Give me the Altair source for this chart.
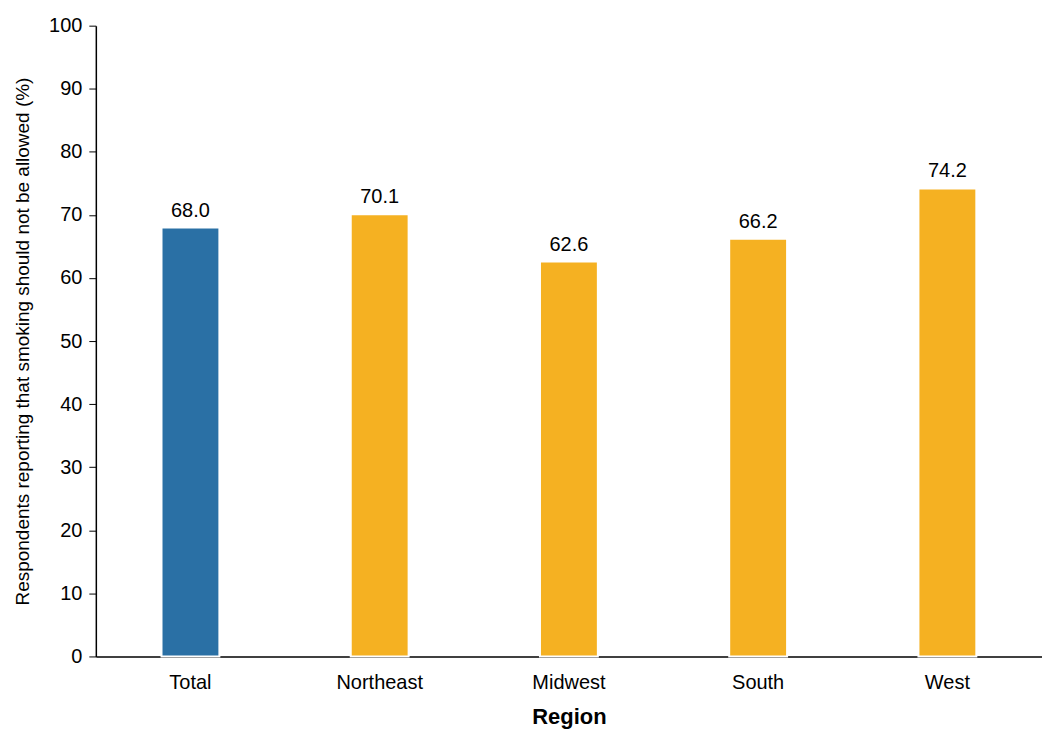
import altair as alt
import pandas as pd

regions = ["Total", "Northeast", "Midwest", "South", "West"]
values = [68.0, 70.1, 62.6, 66.2, 74.2]
colors = ["#2A70A5", "#F5B122", "#F5B122", "#F5B122", "#F5B122"]

df = pd.DataFrame({"Region": regions, "value": values, "color": colors})
df["label"] = df["value"].map(lambda v: f"{v:.1f}")

x = alt.X("Region:N", sort=regions, title="Region",
          axis=alt.Axis(labelAngle=0, ticks=False, labelFontSize=20, labelPadding=16,
                        titleFontSize=22, titleFontWeight="bold", titlePadding=14,
                        domainColor="black", domainWidth=1.5))
y = alt.Y("value:Q", title="Respondents reporting that smoking should not be allowed (%)",
          scale=alt.Scale(domain=[0, 100]),
          axis=alt.Axis(values=list(range(0, 101, 10)), grid=False, labelFontSize=20,
                        titleFontSize=19, titleFontWeight="normal", tickColor="black",
                        tickSize=7, domainColor="black", domainWidth=1.5, labelPadding=7,
                        titlePadding=16))

bars = alt.Chart(df).mark_bar(size=58, stroke="white", strokeWidth=2).encode(
    x=x, y=y, color=alt.Color("color:N", scale=None)
)
text = alt.Chart(df).mark_text(dy=-17, fontSize=20, color="black").encode(
    x=alt.X("Region:N", sort=regions), y="value:Q", text="label:N"
)

chart = (bars + text).properties(
    width=1036, height=722,
    padding={"left": 5, "right": 0, "top": 7, "bottom": 2},
    autosize=alt.AutoSizeParams(type="fit", contains="padding"),
).configure(font="Liberation Sans").configure_axis(labelColor="black", titleColor="black").configure_view(stroke=None)

chart.save("out.html", embed_options={"renderer": "svg", "actions": False})
